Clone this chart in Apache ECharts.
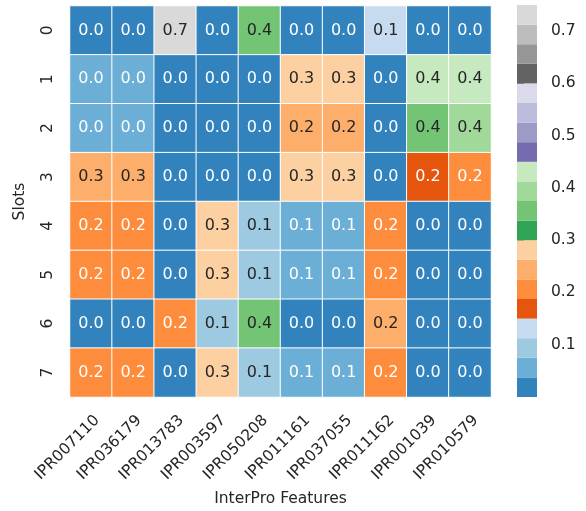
<!DOCTYPE html>
<html><head><meta charset="utf-8">
<script src="https://cdn.jsdelivr.net/npm/echarts@6/dist/echarts.min.js"></script>
<style>html,body{margin:0;padding:0;background:#fff}#c{width:586px;height:511px}</style>
</head><body><div id="c"></div>
<script>
const features = ['IPR007110','IPR036179','IPR013783','IPR003597','IPR050208','IPR011161','IPR037055','IPR011162','IPR001039','IPR010579'];
const slots = ['0','1','2','3','4','5','6','7'];
const slot0 = [0.00,0.00,0.72,0.00,0.36,0.00,0.00,0.13,0.00,0.00];
const slot1 = [0.04,0.04,0.00,0.00,0.00,0.28,0.28,0.00,0.43,0.43];
const slot2 = [0.04,0.04,0.00,0.00,0.00,0.24,0.24,0.00,0.36,0.39];
const slot3 = [0.26,0.26,0.00,0.00,0.00,0.28,0.28,0.00,0.17,0.20];
const slot4 = [0.20,0.20,0.00,0.28,0.09,0.06,0.06,0.20,0.00,0.00];
const slot5 = [0.20,0.20,0.00,0.28,0.09,0.06,0.06,0.20,0.00,0.00];
const slot6 = [0.00,0.00,0.20,0.09,0.36,0.00,0.00,0.24,0.00,0.00];
const slot7 = [0.20,0.20,0.00,0.28,0.09,0.06,0.06,0.20,0.00,0.00];
const cbTicks = [0.1,0.2,0.3,0.4,0.5,0.6,0.7];
const vmin = 0, vmax = 0.75;
const tab20c = ['#3182bd','#6baed6','#9ecae1','#c6dbef','#e6550d','#fd8d3c','#fdae6b','#fdd0a2','#31a354','#74c476','#a1d99b','#c7e9c0','#756bb1','#9e9ac8','#bcbddc','#dadaeb','#636363','#969696','#bdbdbd','#d9d9d9'];

const rows = [slot0,slot1,slot2,slot3,slot4,slot5,slot6,slot7];
const nb = tab20c.length, step = (vmax - vmin) / nb;
function colorOf(v){ let i = Math.floor((v - vmin) / step); if (i < 0) i = 0; if (i >= nb) i = nb - 1; return tab20c[i]; }
function lum(hex){ const c=[1,3,5].map(k=>parseInt(hex.substr(k,2),16)/255).map(x=> x<=0.03928? x/12.92 : Math.pow((x+0.055)/1.055,2.4)); return 0.2126*c[0]+0.7152*c[1]+0.0722*c[2]; }
const FONT = 'DejaVu Sans';
const TXT = '#262626';
const data = [];
rows.forEach((r, yi) => r.forEach((v, xi) => {
  const col = colorOf(v);
  data.push({ value:[xi, yi, v], label:{ color: lum(col) > 0.408 ? TXT : '#ffffff' } });
}));
const pieces = tab20c.map((c, i) => (i === nb - 1) ? { gte: vmin + i*step, lte: vmax, color: c } : { gte: vmin + i*step, lt: vmin + (i+1)*step, color: c });
const cbData = tab20c.map((c, i) => [vmin + i*step, vmin + (i+1)*step, i]);

const chart = echarts.init(document.getElementById('c'), null, {renderer:'canvas'});
chart.setOption({
  animation:false,
  textStyle:{fontFamily:FONT},
  grid:[
    {left:70, top:6, width:421, height:391, outerBoundsMode:'none', containLabel:false},
    {left:517, top:5, width:20, height:392, outerBoundsMode:'none', containLabel:false},
    {left:76, top:6, width:421, height:391, outerBoundsMode:'none', containLabel:false}
  ],
  xAxis:[
    {type:'category', gridIndex:0, data:features, axisLine:{show:false}, axisTick:{show:false}, splitLine:{show:false},
     axisLabel:{show:false},
     name:'InterPro Features', nameLocation:'middle', nameGap:94, nameTextStyle:{fontSize:15.5, color:TXT, fontFamily:FONT}},
    {type:'value', gridIndex:1, min:0, max:1, show:false},
    {type:'category', gridIndex:2, data:features, axisLine:{show:false}, axisTick:{show:false}, splitLine:{show:false},
     axisLabel:{rotate:45, fontSize:15.5, color:TXT, fontFamily:FONT, margin:21, interval:0}}
  ],
  yAxis:[
    {type:'category', gridIndex:0, data:slots, inverse:true, axisLine:{show:false}, axisTick:{show:false}, splitLine:{show:false},
     axisLabel:{rotate:90, fontSize:15.5, color:TXT, fontFamily:FONT, margin:14},
     name:'Slots', nameLocation:'middle', nameGap:42, nameRotate:90, nameTextStyle:{fontSize:15.5, color:TXT, fontFamily:FONT}},
    {type:'value', gridIndex:1, min:vmin, max:vmax, position:'right', splitLine:{show:false}, axisLine:{show:false},
     axisTick:{show:true, length:7, lineStyle:{color:TXT, width:1.2}, customValues:cbTicks},
     axisLabel:{fontSize:15.5, color:TXT, fontFamily:FONT, margin:14, customValues:cbTicks, formatter:v=>v.toFixed(1)}},
    {type:'value', gridIndex:2, show:false}
  ],
  visualMap:{show:false, type:'piecewise', seriesIndex:0, dimension:2, pieces:pieces},
  series:[
    {type:'heatmap', xAxisIndex:0, yAxisIndex:0, data:data,
     itemStyle:{borderColor:'#ffffff', borderWidth:1},
     label:{show:true, fontSize:16, fontFamily:FONT, formatter:p=>p.value[2].toFixed(1)},
     emphasis:{disabled:true}},
    {type:'custom', xAxisIndex:1, yAxisIndex:1, data:cbData, silent:true,
     renderItem:(params, api)=>{
       const a = api.coord([0, api.value(0)]), b = api.coord([1, api.value(1)]);
       return {type:'rect', shape:{x:a[0], y:b[1], width:b[0]-a[0], height:a[1]-b[1]}, style:{fill:tab20c[api.value(2)]}};
     }}
  ]
});
</script></body></html>
